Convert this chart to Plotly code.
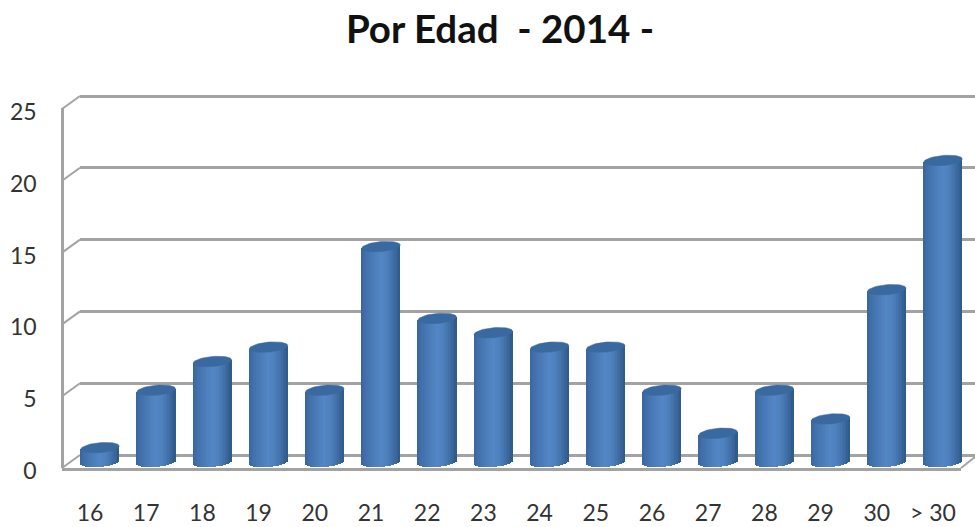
import numpy as np
import plotly.graph_objects as go

ages = ["16","17","18","19","20","21","22","23","24","25","26","27","28","29","30","> 30"]
counts = [1,5,7,8,5,15,10,9,8,8,5,2,5,3,12,21]
title_text = "Por Edad\u00a0\u00a0- 2014 -"
y_ticks = [0,5,10,15,20,25]

W, H = 975, 527
X0, DX = 100.0, 56.2      # pixel of first bar, pixel per category
PX = 14.36                # pixel per value unit
GREY = "#a3a3a3"

def px_x(p): return p / W
def px_y(p): return 1 - p / H
def cat(p): return (p - X0) / DX

fig = go.Figure()
pos = np.arange(len(counts))
vals = np.array(counts, float)

# cylinder body: vertical strips with shaded colours
n = 25
half = 19.2 / DX
b = 5.0 / PX
tilt = 1.6 / PX
left = np.array([56, 100, 156]); mid = np.array([82, 134, 196]); right = np.array([46, 88, 136])
for k in range(n):
    u = -1 + (2 * k + 1) / n
    if u < 0.0:
        t = (u + 1) ** 0.7
        c = left + (mid - left) * min(t, 1)
    else:
        t = u ** 1.8
        c = mid + (right - mid) * t
    edge = np.sqrt(1 - u * u)
    base = -b * edge + tilt * u
    top = vals + tilt * u
    fig.add_trace(go.Bar(
        x=pos + u * half, y=top - base, base=[base] * len(vals),
        width=2 * half / n * 1.15,
        marker=dict(color="rgb(%d,%d,%d)" % tuple(c), line_width=0),
        xaxis="x3", yaxis="y3", showlegend=False, hoverinfo="skip"))

# cylinder tops: one tilted ellipse per bar
th = np.linspace(0, 2 * np.pi, 49)
ex, ey = [], []
for p, v in zip(pos, vals):
    ex += list(p + half * np.cos(th)) + [None]
    ey += list(v + b * np.sin(th) + tilt * np.cos(th)) + [None]
fig.add_trace(go.Scatter(x=ex, y=ey, mode="lines", fill="toself", fillcolor="#3a699f",
                         line=dict(color="#3a699f", width=0.5), xaxis="x3", yaxis="y3",
                         showlegend=False, hoverinfo="skip"))

# back wall gridlines live on their own subplot
fig.add_trace(go.Scatter(x=[0], y=[0], mode="markers", marker_opacity=0, xaxis="x2", yaxis="y2",
                         showlegend=False, hoverinfo="skip"))
# front axes carrying the labels
fig.add_trace(go.Scatter(x=[0], y=[0], mode="markers", marker_opacity=0, xaxis="x", yaxis="y",
                         showlegend=False, hoverinfo="skip"))

shapes = []
FRONT0, BACK0 = 468.0, 455.0
for t in y_ticks:
    shapes.append(dict(type="line", xref="paper", yref="paper",
                       x0=px_x(62), x1=px_x(80),
                       y0=px_y(FRONT0 - t * PX), y1=px_y(BACK0 - t * PX),
                       line=dict(color=GREY, width=2), layer="below"))
shapes.append(dict(type="line", xref="paper", yref="paper",
                   x0=px_x(961), x1=px_x(975), y0=px_y(FRONT0), y1=px_y(BACK0 + 2),
                   line=dict(color=GREY, width=2), layer="below"))

font = "Lato, 'Open Sans', sans-serif"
PAD = 10  # back-wall subplot extends a little past the outer gridlines
fig.update_layout(
    width=W, height=H, margin=dict(l=0, r=0, t=0, b=0),
    paper_bgcolor="white", plot_bgcolor="rgba(0,0,0,0)",
    barmode="overlay", bargap=0, shapes=shapes,
    font=dict(family=font, color="#262626"),
    title=dict(text="<b>" + title_text + "</b>", x=500 / W, xanchor="center",
               y=1 - 30 / H, yanchor="middle",
               font=dict(family=font, size=38.5, color="#111111")),
    xaxis=dict(domain=[px_x(62), px_x(961)], range=[cat(62), cat(961)], automargin=False,
               tickmode="array", tickvals=list(pos - 10 / DX), ticktext=ages,
               showline=True, linecolor=GREY, linewidth=2.5, showgrid=False, zeroline=False,
               ticks="", ticklabelstandoff=23, tickfont=dict(size=23, color="#333333"),
               anchor="y"),
    yaxis=dict(domain=[px_y(FRONT0), px_y(108)], range=[0, (FRONT0 - 108) / PX], automargin=False,
               tickmode="array", tickvals=y_ticks, anchor="free", position=px_x(62),
               showline=True, linecolor=GREY, linewidth=2.5, showgrid=False, zeroline=False,
               ticks="", ticklabelstandoff=20, ticklabelshift=3,
               tickfont=dict(size=23, color="#333333")),
    xaxis2=dict(domain=[px_x(80), 1], range=[0, 1], visible=False, anchor="y2", automargin=False),
    yaxis2=dict(domain=[px_y(BACK0 + PAD), px_y(96 - PAD)], automargin=False,
                range=[-PAD / PX, (BACK0 - 96 + PAD) / PX],
                tickmode="array", tickvals=y_ticks, showticklabels=False, ticks="",
                showgrid=True, gridcolor=GREY, gridwidth=2.5, zeroline=False,
                showline=False, anchor="x2"),
    xaxis3=dict(domain=[0, 1], range=[cat(0), cat(W)], visible=False, anchor="y3", automargin=False),
    yaxis3=dict(domain=[px_y(527), px_y(0)], range=[(462 - 527) / PX, 462 / PX],
                visible=False, anchor="x3", automargin=False),
)
fig.write_html("out.html", post_script="document.body.style.margin='0';",
               config={"displayModeBar": False})
